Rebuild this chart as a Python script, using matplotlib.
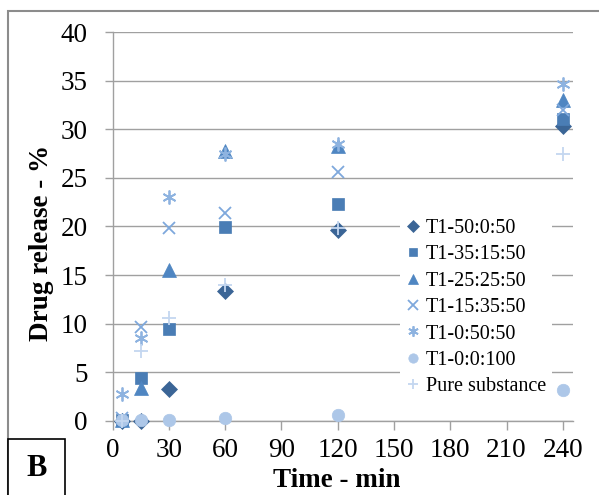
import matplotlib
matplotlib.use('Agg')
import matplotlib.pyplot as plt
from matplotlib.patches import Rectangle

plt.rcParams['font.family'] = ['Liberation Serif', 'DejaVu Serif']

# release time points, min
t = [5, 15, 30, 60, 120, 240]

# drug release, %
r_50_0_50 = [0.0, 0.0, 3.3, 13.4, 19.6, 30.4]
r_35_15_50 = [0.1, 4.4, 9.4, 19.9, 22.3, 31.1]
r_25_25_50 = [0.1, 3.4, 15.5, 27.8, 28.3, 33.0]
r_15_35_50 = [0.3, 9.6, 19.8, 21.4, 25.6, 32.0]
r_0_50_50 = [2.7, 8.5, 23.0, 27.5, 28.5, 34.7]
r_0_0_100 = [0.1, 0.1, 0.1, 0.3, 0.6, 3.2]
r_pure = [0.0, 7.2, 10.6, 14.0, 19.8, 27.5]

labels = ['T1-50:0:50', 'T1-35:15:50', 'T1-25:25:50', 'T1-15:35:50',
          'T1-0:50:50', 'T1-0:0:100', 'Pure substance']
series = [r_50_0_50, r_35_15_50, r_25_25_50, r_15_35_50, r_0_50_50, r_0_0_100, r_pure]
markers = ['D', 's', '^', 'x', (6, 2, 0), 'o', '+']
sizes = [8, 8.5, 9.5, 9, 10, 9, 10]
colors = ['#3b6596', '#4a7db5', '#4f86c2', '#7ea8dc', '#8eb3e0', '#adc7e8', '#c4d7f0']

W, H = 599, 495
fig = plt.figure(figsize=(W / 100, H / 100), dpi=100)
x0, x1, y0, y1 = 112.7, 572.7, 420.7, 32.3
ax = fig.add_axes([x0 / W, 1 - y0 / H, (x1 - x0) / W, (y0 - y1) / H])

handles = []
for y, lab, m, s, c in zip(series, labels, markers, sizes, colors):
    h, = ax.plot(t, y, linestyle='none', marker=m, markersize=s, color=c,
                 markeredgewidth=1.3 if m in ('x', '+') or isinstance(m, tuple) else 0.5,
                 label=lab, clip_on=False, zorder=3)
    handles.append(h)

ax.set_xlim(0, 245.3)
ax.set_ylim(0, 40)
ax.set_xticks(range(0, 241, 30))
ax.set_yticks(range(0, 41, 5))
ax.yaxis.grid(True, color='#a0a0a0', linewidth=1.0)
ax.set_axisbelow(True)
for side in ['top', 'right']:
    ax.spines[side].set_visible(False)
for side in ['left', 'bottom']:
    ax.spines[side].set_color('#a0a0a0')
    ax.spines[side].set_linewidth(1.0)
ax.tick_params(axis='y', direction='out', length=6, width=1, color='#a0a0a0',
               pad=12, labelsize=19.5)
ax.tick_params(axis='x', direction='out', length=6.8, width=1, color='#a0a0a0',
               pad=5.5, labelsize=19.5)

fig.text(336.5 / W, 1 - 486.7 / H, 'Time - min', ha='center', va='baseline',
         fontsize=19.5, fontweight='bold')
fig.text(48.3 / W, 1 - 243 / H, 'Drug release - %', ha='center', va='baseline',
         rotation=90, rotation_mode='anchor', fontsize=19.5, fontweight='bold')

leg = ax.legend(handles=handles, loc='upper left',
                bbox_to_anchor=(400 / W, 1 - 213 / H), bbox_transform=fig.transFigure,
                fontsize=14.5, frameon=True, facecolor='white', edgecolor='none',
                framealpha=1, fancybox=False, handlelength=0.7, handletextpad=0.3,
                labelspacing=0.36, borderpad=0.3, borderaxespad=0, markerscale=0.75)
leg.set_zorder(5)

# outer chart frame and panel tag
fig.add_artist(Rectangle((8 / W, -0.1), 1.2, 1 - 11 / H + 0.1, transform=fig.transFigure,
                         fill=False, edgecolor='#8c8c8c', linewidth=1.5))
fig.add_artist(Rectangle((8 / W, -0.05), 57 / W, (495 - 439.3) / H + 0.05,
                         transform=fig.transFigure, facecolor='white',
                         edgecolor='black', linewidth=1.2))
fig.text(36.5 / W, 1 - 476 / H, 'B', ha='center', va='baseline',
         fontsize=22, fontweight='bold')

fig.savefig('out.png', dpi=100)
